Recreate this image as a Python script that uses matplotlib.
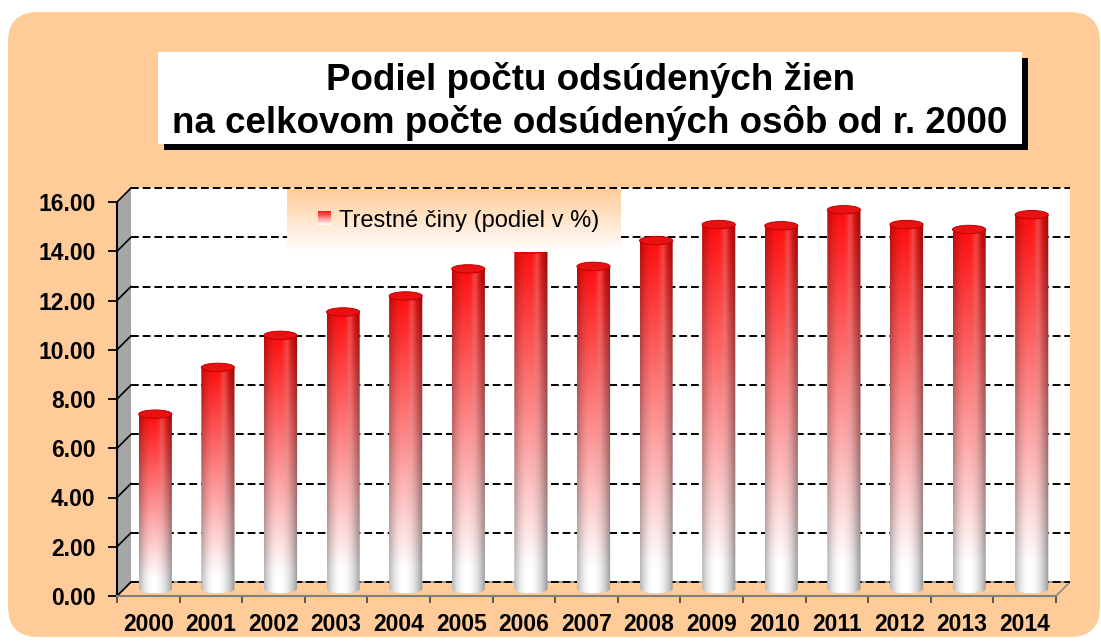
import numpy as np
import matplotlib
matplotlib.use('Agg')
import matplotlib.pyplot as plt
from matplotlib.patches import FancyBboxPatch, Rectangle, Polygon, Ellipse, PathPatch, Patch
from matplotlib.path import Path
from matplotlib.legend_handler import HandlerBase

# ---------------- data ----------------
years = ['2000', '2001', '2002', '2003', '2004', '2005', '2006', '2007',
         '2008', '2009', '2010', '2011', '2012', '2013', '2014']
values = [7.1, 9.0, 10.3, 11.25, 11.9, 13.0, 13.8, 13.1,
          14.15, 14.8, 14.75, 15.4, 14.8, 14.6, 15.2]
yticks = [0, 2, 4, 6, 8, 10, 12, 14, 16]
ytick_labels = ['0.00', '2.00', '4.00', '6.00', '8.00', '10.00', '12.00', '14.00', '16.00']
title_line1 = 'Podiel počtu odsúdených žien'
title_line2 = 'na celkovom počte odsúdených osôb od r. 2000'
legend_label = 'Trestné činy (podiel v %)'

plt.rcParams['font.family'] = ['Liberation Sans', 'DejaVu Sans']

W, H = 1101, 643
PEACH = '#FFCC99'
RED = np.array([1.0, 0.05, 0.05])
WHITE = np.array([1.0, 1.0, 1.0])

fig = plt.figure(figsize=(W / 100, H / 100), dpi=100)
fig.patch.set_facecolor('white')

# outer rounded peach panel
fig.add_artist(FancyBboxPatch((8 / 100, (H - 637) / 100), (1100 - 8) / 100, (637 - 12) / 100,
                              boxstyle='round,pad=0,rounding_size=0.3',
                              transform=fig.dpi_scale_trans, facecolor=PEACH,
                              edgecolor='none', zorder=0))

# title box with shadow
fig.add_artist(Rectangle((164 / 100, (H - 150) / 100), (1028 - 164) / 100, (150 - 58) / 100,
                         transform=fig.dpi_scale_trans, facecolor='black', edgecolor='none', zorder=1))
fig.add_artist(Rectangle((158 / 100, (H - 144) / 100), (1022 - 158) / 100, (144 - 52) / 100,
                         transform=fig.dpi_scale_trans, facecolor='white', edgecolor='none', zorder=2))
fig.text(590 / W, 1 - 90 / H, title_line1, ha='center', va='baseline', fontsize=26.5,
         fontweight='bold', zorder=3)
fig.text(590 / W, 1 - 133 / H, title_line2, ha='center', va='baseline', fontsize=26.5,
         fontweight='bold', zorder=3)

# ---------------- main axes ----------------
ax = fig.add_axes([117 / W, 1 - 596 / H, 939 / W, 394 / H])
ax.patch.set_visible(False)
n = len(years)
xs = np.arange(n)
pxx = 939 / n
pxy = 394 / 16
ddx = 14 / pxx
ddy = 14 / pxy
x_lo, x_hi = -0.5, n - 0.5

# back wall
ax.add_patch(Rectangle((x_lo + ddx, ddy), n, 16, facecolor='white', edgecolor='none',
                       zorder=0.5, clip_on=False))
# left wall
ax.add_patch(Polygon([(x_lo, 0), (x_lo + ddx, ddy), (x_lo + ddx, 16 + ddy), (x_lo, 16)],
                     closed=True, facecolor='#A6A6A6', edgecolor='none', zorder=0.8, clip_on=False))
# floor
ax.add_patch(Polygon([(x_lo, 0), (x_hi, 0), (x_hi + ddx, ddy), (x_lo + ddx, ddy)],
                     closed=True, facecolor=PEACH, edgecolor='#8C8C8C', lw=1.2, zorder=0.9,
                     clip_on=False))
# gridlines
for v in yticks:
    ax.plot([x_lo + ddx, x_hi + ddx], [v + ddy, v + ddy], color='black', lw=1.4,
            ls=(0, (4, 2)), clip_on=False, zorder=1)
    ax.plot([x_lo, x_lo + ddx], [v, v + ddy], color='black', lw=1.2, clip_on=False, zorder=1.2)


def grad_color(t):
    g = np.clip((t - 0.08) / 0.92, 0, 1) ** 1.0
    return WHITE + (RED - WHITE) * g


# gradient image for cylinders
rows, cols = 240, 80
t = np.linspace(0, 1, rows)[:, None]
u = np.linspace(0, 1, cols)[None, :]
g = np.clip((t - 0.08) / 0.92, 0, 1) ** 1.0
base = WHITE + (RED - WHITE) * g[..., None]
base = np.broadcast_to(base, (rows, cols, 3)).copy()
shade = np.where(u < 0.42, 1 - 0.28 * ((0.42 - u) / 0.42) ** 2, 1 - 0.42 * ((u - 0.42) / 0.58) ** 2.2)
hl = 0.2 * np.exp(-((u - 0.68) / 0.1) ** 2)
img = base * shade[..., None]
img = img + (1 - img) * hl[..., None] * (np.clip((t - 0.1) / 0.9, 0, 1))[..., None]
img = np.clip(img, 0, 1)

bars = ax.bar(xs + ddx / 2, values, width=0.53, bottom=ddy / 2, color='none',
              edgecolor='none', zorder=2)
eh = 4.2 / pxy
for b in bars:
    x0 = b.get_x()
    w = b.get_width()
    y0 = b.get_y()
    top = y0 + b.get_height()
    xc = x0 + w / 2
    angs = np.linspace(np.pi, 2 * np.pi, 30)
    verts = [(x0, top)] + [(xc + w / 2 * np.cos(a), y0 + eh * np.sin(a)) for a in angs] + [(x0 + w, top), (x0, top)]
    codes = [Path.MOVETO] + [Path.LINETO] * (len(verts) - 2) + [Path.CLOSEPOLY]
    clip = PathPatch(Path(verts, codes), transform=ax.transData, facecolor='none', edgecolor='none')
    im = ax.imshow(img, extent=[x0, x0 + w, y0 - eh, top], aspect='auto', origin='lower',
                   interpolation='bilinear', zorder=2)
    im.set_clip_path(clip)
    ax.add_patch(Ellipse((xc, top), w, 2 * eh, facecolor='#E81212', edgecolor='#C00000',
                         lw=0.7, zorder=3))

ax.set_xlim(x_lo, x_hi)
ax.set_ylim(0, 16)
ax.spines['top'].set_visible(False)
ax.spines['right'].set_visible(False)
ax.spines['left'].set_color('black')
ax.spines['left'].set_linewidth(1.5)
ax.spines['bottom'].set_color('#7F7F7F')
ax.spines['bottom'].set_linewidth(1.5)
for s in ax.spines.values():
    s.set_zorder(4)

ax.set_yticks(yticks)
ax.set_yticklabels(ytick_labels, fontsize=16.5, fontweight='bold')
ax.tick_params(axis='y', length=6.5, width=1.3, pad=9, colors='black')
ax.set_xticks(xs)
ax.set_xticklabels(years, fontsize=16.5, fontweight='bold')
ax.tick_params(axis='x', which='major', length=0, pad=12)
ax.set_xticks(np.arange(n + 1) - 0.5, minor=True)
ax.tick_params(axis='x', which='minor', length=5, width=1.2, color='#404040')

# ---------------- legend ----------------
lax = fig.add_axes([287 / W, 1 - 252 / H, 333 / W, 63 / H], zorder=5)
lax.axis('off')
gt = np.linspace(0, 1, 64)[:, None]
peach_rgb = np.array([1.0, 0.8, 0.6])
lg = WHITE + (peach_rgb - WHITE) * gt
lg = np.repeat(lg[:, None, :], 2, axis=1)
lax.imshow(lg, aspect='auto', extent=[0, 1, 0, 1], origin='lower', interpolation='bilinear')
lax.set_xlim(0, 1)
lax.set_ylim(0, 1)


class GradHandler(HandlerBase):
    def create_artists(self, legend, orig_handle, xdescent, ydescent, width, height, fontsize, trans):
        arts = []
        k_n = 12
        for k in range(k_n):
            tt = (k + 0.5) / k_n
            arts.append(Rectangle((-xdescent, -ydescent + k * height / k_n), width,
                                  height / k_n * 1.05, facecolor=grad_color(tt),
                                  edgecolor='none', lw=0, transform=trans))
        return arts


lax.legend(handles=[Patch(label=legend_label)], handler_map={Patch: GradHandler()},
           loc='center left', bbox_to_anchor=(0.093, 0.5), frameon=False, fontsize=17,
           handlelength=0.55, handleheight=0.55, handletextpad=0.35, borderpad=0,
           borderaxespad=0)

fig.savefig('out.png', dpi=100, facecolor='white')
